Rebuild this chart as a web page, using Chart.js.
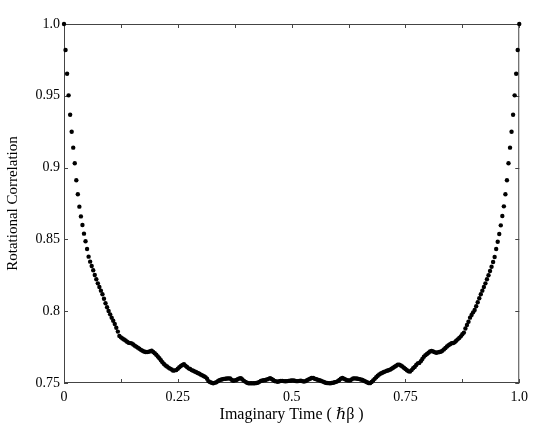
<!DOCTYPE html>
<html>
<head>
<meta charset="utf-8">
<script src="https://cdn.jsdelivr.net/npm/chart.js@4"></script>
<style>
  html,body{margin:0;padding:0;background:#fff}
  #wrap{width:534px;height:427px}
</style>
</head>
<body>
<div id="wrap"><canvas id="chart"></canvas></div>
<script>
// rotational correlation vs imaginary time, one value per time slice
const corr = [
  1.0000, 0.9819, 0.9654, 0.9503, 0.9368, 0.9250, 0.9139, 0.9030, 0.8912, 0.8814,
  0.8728, 0.8660, 0.8600, 0.8540, 0.8487, 0.8433, 0.8380, 0.8345, 0.8315, 0.8285,
  0.8252, 0.8222, 0.8194, 0.8169, 0.8143, 0.8118, 0.8087, 0.8055, 0.8027, 0.8001,
  0.7978, 0.7955, 0.7934, 0.7911, 0.7885, 0.7858,
  0.7828, 0.7818, 0.7810, 0.7803, 0.7796, 0.7787, 0.7780, 0.7778, 0.7776, 0.7768,
  0.7760, 0.7753, 0.7746, 0.7738, 0.7731, 0.7725, 0.7719, 0.7716, 0.7716, 0.7717,
  0.7721, 0.7725, 0.7716, 0.7707, 0.7697, 0.7685, 0.7673, 0.7658, 0.7645, 0.7632,
  0.7622, 0.7615, 0.7607, 0.7600, 0.7594, 0.7586, 0.7588, 0.7590, 0.7599, 0.7610,
  0.7618, 0.7626, 0.7631, 0.7620, 0.7611, 0.7602, 0.7597, 0.7590, 0.7585, 0.7580,
  0.7575, 0.7570, 0.7564, 0.7558, 0.7553, 0.7547, 0.7541, 0.7530, 0.7513, 0.7506,
  0.7502, 0.7498, 0.7501, 0.7505, 0.7512, 0.7519, 0.7523, 0.7526, 0.7529, 0.7530,
  0.7531, 0.7532, 0.7531, 0.7523, 0.7516, 0.7518, 0.7521, 0.7526, 0.7532, 0.7533,
  0.7524, 0.7515, 0.7508, 0.7502, 0.7498, 0.7498, 0.7498, 0.7498, 0.7498, 0.7500,
  0.7502, 0.7508, 0.7514, 0.7517, 0.7519, 0.7521, 0.7525, 0.7529, 0.7534, 0.7528,
  0.7521, 0.7514, 0.7511, 0.7509, 0.7512, 0.7515, 0.7515, 0.7513, 0.7512, 0.7513,
  0.7515, 0.7516, 0.7517, 0.7518, 0.7516, 0.7513, 0.7513, 0.7515, 0.7516, 0.7513,
  0.7510, 0.7513, 0.7519, 0.7525, 0.7530, 0.7535, 0.7535, 0.7530, 0.7526, 0.7523,
  0.7519, 0.7516, 0.7511, 0.7507, 0.7502, 0.7500, 0.7499, 0.7498, 0.7500, 0.7502,
  0.7505, 0.7508, 0.7513, 0.7521, 0.7530, 0.7536, 0.7530, 0.7524, 0.7520, 0.7518,
  0.7518, 0.7525, 0.7532, 0.7532, 0.7531, 0.7530, 0.7527, 0.7524, 0.7521, 0.7516,
  0.7510, 0.7505, 0.7500, 0.7499, 0.7507, 0.7518, 0.7529, 0.7540, 0.7550, 0.7560,
  0.7566, 0.7571, 0.7577, 0.7581, 0.7585, 0.7589, 0.7593, 0.7599, 0.7606, 0.7613,
  0.7620, 0.7628, 0.7628, 0.7622, 0.7615, 0.7606, 0.7597, 0.7589, 0.7581, 0.7580,
  0.7590, 0.7603, 0.7612, 0.7625, 0.7637, 0.7640, 0.7652, 0.7667, 0.7683, 0.7694,
  0.7702, 0.7711, 0.7719, 0.7724, 0.7719, 0.7715, 0.7711, 0.7713, 0.7716, 0.7718,
  0.7725, 0.7734, 0.7744, 0.7754, 0.7763, 0.7770, 0.7777, 0.7779, 0.7783, 0.7794,
  0.7804, 0.7814, 0.7825, 0.7839, 0.7851,
  0.7880, 0.7904, 0.7927, 0.7955, 0.7974, 0.7992, 0.8008, 0.8034, 0.8062, 0.8090,
  0.8118, 0.8143, 0.8169, 0.8194, 0.8222, 0.8250, 0.8280, 0.8310, 0.8343, 0.8377,
  0.8433, 0.8484, 0.8538, 0.8598, 0.8663, 0.8730, 0.8814, 0.8912, 0.9030, 0.9139,
  0.9250, 0.9368, 0.9503, 0.9654, 0.9819, 1.0000
];
// time slices are evenly spaced over [0, hbar*beta]
const tau = corr.map((_, i) => i / (corr.length - 1));

const xTicks = [0, 0.25, 0.5, 0.75, 1.0];
const xTickLabels = ['0', '0.25', '0.5', '0.75', '1.0'];
const yTicks = [0.75, 0.8, 0.85, 0.9, 0.95, 1.0];
const yTickLabels = ['0.75', '0.8', '0.85', '0.9', '0.95', '1.0'];

const serif = "'Liberation Serif', 'DejaVu Serif', serif";
const frameColor = '#444';

// box around the plot + inward ticks on all four sides
const framePlugin = {
  id: 'frame',
  beforeDatasetsDraw(chart){
    const {ctx, chartArea:a, scales:{x, y}} = chart;
    ctx.save();
    ctx.strokeStyle = frameColor;
    ctx.lineWidth = 1;
    ctx.strokeRect(a.left + 0.5, a.top + 0.5, a.right - a.left - 1, a.bottom - a.top - 1);
    ctx.beginPath();
    x.ticks.forEach(t=>{
      const px = Math.round(x.getPixelForValue(t.value)) + 0.5;
      ctx.moveTo(px, a.bottom); ctx.lineTo(px, a.bottom - 4);
      ctx.moveTo(px, a.top); ctx.lineTo(px, a.top + 4);
    });
    y.ticks.forEach(t=>{
      const py = Math.round(y.getPixelForValue(t.value)) + 0.5;
      ctx.moveTo(a.left, py); ctx.lineTo(a.left + 4, py);
      ctx.moveTo(a.right, py); ctx.lineTo(a.right - 4, py);
    });
    ctx.stroke();
    ctx.restore();
  }
};

new Chart(document.getElementById('chart'), {
  type: 'scatter',
  data: {
    datasets: [{
      data: tau.map((t, i) => ({x: t, y: corr[i]})),
      backgroundColor: '#000',
      borderWidth: 0,
      pointRadius: 2.2,
      pointHoverRadius: 2.2,
      clip: false
    }]
  },
  options: {
    responsive: true,
    maintainAspectRatio: false,
    animation: false,
    events: [],
    layout: {padding: {top: 24, right: 14, left: 0, bottom: 0}},
    plugins: {legend: {display: false}, tooltip: {enabled: false}},
    scales: {
      x: {
        type: 'linear', min: 0, max: 1,
        afterFit(s){ s.height = 44; },
        grid: {display: false, drawTicks: false},
        border: {display: false},
        ticks: {
          stepSize: 0.125, padding: 6, color: '#000', maxRotation: 0,
          font: {family: serif, size: 14},
          callback(v){
            const i = xTicks.findIndex(t => Math.abs(t - v) < 1e-6);
            return i < 0 ? '' : xTickLabels[i];
          }
        },
        title: {display: true, text: 'Imaginary Time ( \u210F\u03B2 )', color: '#000',
          font: {family: serif, size: 16}, padding: {top: 0, bottom: 3}}
      },
      y: {
        type: 'linear', min: 0.75, max: 1.0,
        afterFit(s){ s.width = 64; },
        grid: {display: false, drawTicks: false},
        border: {display: false},
        ticks: {
          stepSize: 0.05, padding: 4, color: '#000',
          font: {family: serif, size: 14},
          callback(v){
            const i = yTicks.findIndex(t => Math.abs(t - v) < 1e-6);
            return i < 0 ? '' : yTickLabels[i];
          }
        },
        title: {display: true, text: 'Rotational Correlation', color: '#000',
          font: {family: serif, size: 15}, padding: {top: 4, bottom: 0}}
      }
    }
  },
  plugins: [framePlugin]
});
</script>
</body>
</html>
